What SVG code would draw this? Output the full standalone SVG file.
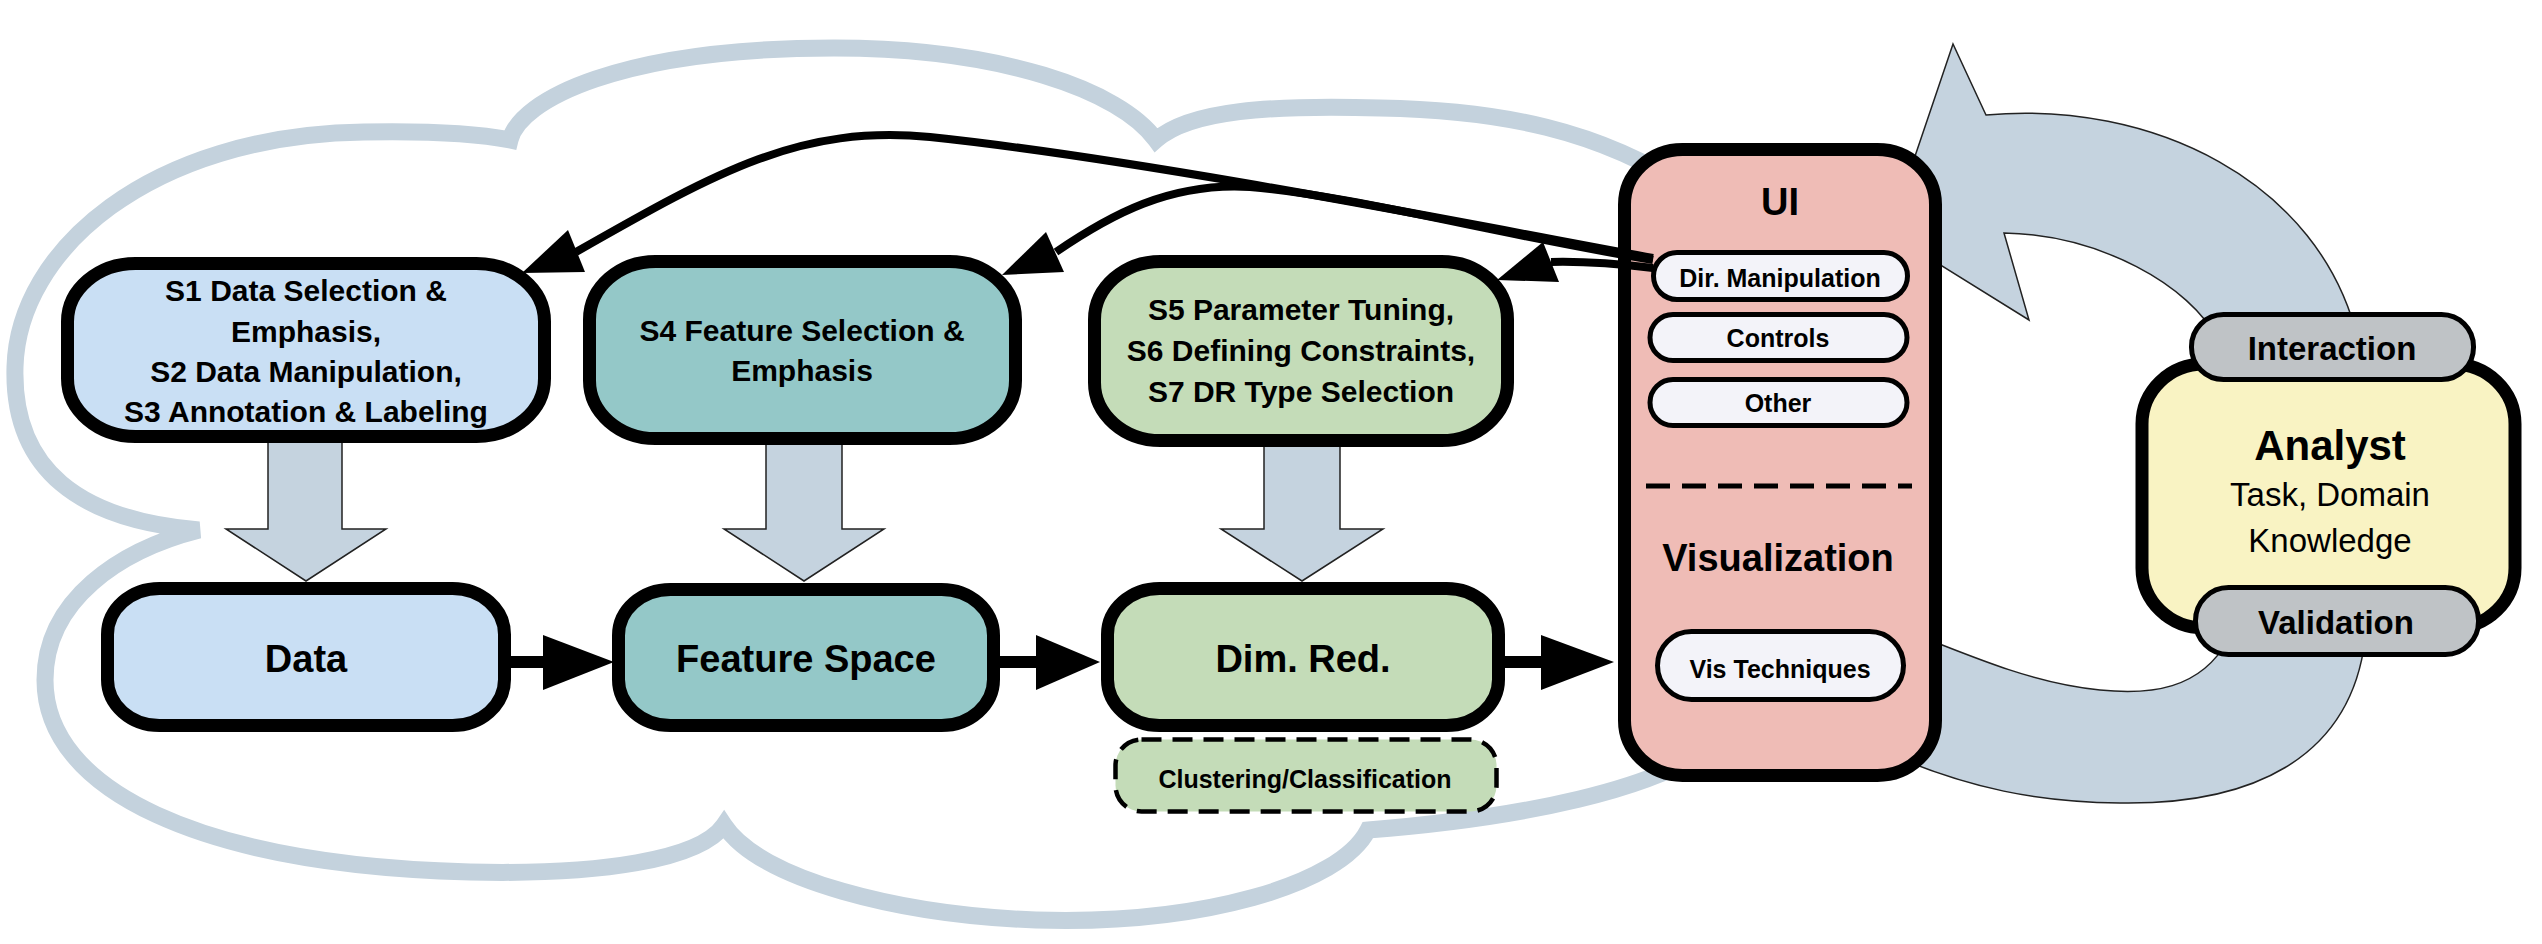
<svg xmlns="http://www.w3.org/2000/svg" width="2542" height="944" viewBox="0 0 2542 944">
<style>
text{font-family:"Liberation Sans",Arial,Helvetica,sans-serif;fill:#000;text-anchor:middle}
.b{font-weight:bold}
.box{stroke:#000;stroke-width:13}
.pill{stroke:#000;stroke-width:5}
.blue{fill:#c9dff4}
.teal{fill:#94c8c8}
.green{fill:#c4dcb8}
.garrow{fill:#c5d3df;stroke:#222;stroke-width:1.5;stroke-linejoin:miter}
.conn{fill:none;stroke:#000;stroke-width:8}
.t30{font-size:30px}
.t38{font-size:38px}
.t25{font-size:25px}
</style>
<rect width="2542" height="944" fill="#fff"/>
<g id="cloud">
<path d="M199,530 C80,520 12,470 15,367 C18,250 150,135 364,132 C420,131 475,133 510,140 C520,100 620,48 834,48 C1000,48 1120,90 1156,140 C1190,110 1270,105 1380,108 C1500,110 1600,130 1690,190 L1720,740 C1660,790 1520,818 1368,830 C1340,885 1200,925 1036,920 C900,915 760,880 724,825 C700,860 600,875 470,872 C200,865 45,790 45,680 C45,600 120,550 199,530 Z" fill="none" stroke="#c4d2dd" stroke-width="17"/>
</g>
<g id="loop-arrows">
<path class="garrow" d="M2218,340 C2190,285 2100,235 2004,233 L2029,320 L1889,233 L1953,44 L1986,115 C2150,100 2320,180 2358,340 Z"/>
<path class="garrow" d="M2365,640 C2350,760 2250,805 2120,803 C2040,802 1970,790 1880,750 L1880,620 C1990,665 2040,684 2100,690 C2150,695 2200,690 2228,640 Z"/>
</g>
<g id="down-arrows">
<polygon class="garrow" points="268,440 342,440 342,529 386,529 306,581 226,529 268,529"/>
<polygon class="garrow" points="766,440 842,440 842,529 884,529 804,581 724,529 766,529"/>
<polygon class="garrow" points="1264,440 1340,440 1340,529 1383,529 1302,581 1221,529 1264,529"/>
</g>
<g id="s1">
<rect class="box blue" x="67.5" y="263.5" width="477" height="173" rx="68" ry="58"/>
<text class="b t30" x="306" y="301">S1 Data Selection &amp;</text>
<text class="b t30" x="306" y="342">Emphasis,</text>
<text class="b t30" x="306" y="382">S2 Data Manipulation,</text>
<text class="b t30" x="306" y="422">S3 Annotation &amp; Labeling</text>
</g>
<g id="s4">
<rect class="box teal" x="589.5" y="261.5" width="426" height="177" rx="66" ry="58"/>
<text class="b t30" x="802" y="341">S4 Feature Selection &amp;</text>
<text class="b t30" x="802" y="381">Emphasis</text>
</g>
<g id="s5">
<rect class="box green" x="1094.5" y="261.5" width="413" height="179" rx="66" ry="58"/>
<text class="b t30" x="1301" y="320">S5 Parameter Tuning,</text>
<text class="b t30" x="1301" y="361">S6 Defining Constraints,</text>
<text class="b t30" x="1301" y="402">S7 DR Type Selection</text>
</g>
<g id="data">
<rect class="box blue" x="107.5" y="588.5" width="397" height="137" rx="52" ry="46"/>
<text class="b t38" x="306" y="672">Data</text>
</g>
<g id="feature-space">
<rect class="box teal" x="618.5" y="589.5" width="375" height="136" rx="52" ry="46"/>
<text class="b t38" x="806" y="672">Feature Space</text>
</g>
<g id="dim-red">
<rect class="box green" x="1107.5" y="588.5" width="391" height="137" rx="52" ry="46"/>
<text class="b t38" x="1303" y="672">Dim. Red.</text>
</g>
<g id="clustering">
<rect class="green" x="1115.5" y="739.5" width="381" height="72" rx="26" ry="26" stroke="#000" stroke-width="4.5" stroke-dasharray="20 11"/>
<text class="b t25" x="1305" y="788">Clustering/Classification</text>
</g>
<g id="ui">
<rect class="box" fill="#efbcb6" x="1624.5" y="149.5" width="311" height="626" rx="58" ry="55"/>
<text class="b t38" x="1780" y="215">UI</text>
<line x1="1646" y1="486" x2="1912" y2="486" stroke="#000" stroke-width="5" stroke-dasharray="24 12"/>
<text class="b t38" x="1778" y="571">Visualization</text>
</g>
<g id="dir-manipulation">
<rect class="pill" fill="#f3f3f9" x="1653.5" y="252.5" width="254" height="47" rx="23.5"/>
<text class="b t25" x="1780" y="287">Dir. Manipulation</text>
</g>
<g id="controls">
<rect class="pill" fill="#f3f3f9" x="1650" y="314.5" width="257" height="46" rx="23"/>
<text class="b t25" x="1778" y="347">Controls</text>
</g>
<g id="other">
<rect class="pill" fill="#f3f3f9" x="1650" y="379.5" width="257" height="46" rx="23"/>
<text class="b t25" x="1778" y="412">Other</text>
</g>
<g id="vis-techniques">
<rect class="pill" fill="#f3f3f9" x="1657.5" y="631.5" width="246" height="68" rx="34"/>
<text class="b t25" x="1780" y="678">Vis Techniques</text>
</g>
<g id="analyst">
<rect class="box" fill="#f9f3c3" x="2142" y="364" width="373" height="264" rx="62" ry="60"/>
<text class="b" x="2330" y="460" font-size="42">Analyst</text>
<text x="2330" y="506" font-size="33">Task, Domain</text>
<text x="2330" y="552" font-size="33">Knowledge</text>
</g>
<g id="interaction">
<rect class="pill" fill="#bfc3c6" x="2191.5" y="314.5" width="282" height="65" rx="32"/>
<text class="b" x="2332" y="360" font-size="33">Interaction</text>
</g>
<g id="validation">
<rect class="pill" fill="#bfc3c6" x="2195.5" y="587.5" width="283" height="67" rx="33"/>
<text class="b" x="2336" y="634" font-size="33">Validation</text>
</g>
<g id="connectors">
<line x1="511" y1="662" x2="545" y2="662" stroke="#000" stroke-width="12"/>
<polygon points="543,635 614,662 543,690" fill="#000"/>
<line x1="1000" y1="662" x2="1038" y2="662" stroke="#000" stroke-width="12"/>
<polygon points="1036,635 1100,662 1036,690" fill="#000"/>
<line x1="1505" y1="662" x2="1543" y2="662" stroke="#000" stroke-width="12"/>
<polygon points="1541,635 1614,662 1541,690" fill="#000"/>
<path class="conn" d="M1653,258 C1500,230 1150,160 930,137 C800,125 720,170 576,252"/>
<polygon points="522,273 568,230 585,272" fill="#000"/>
<path class="conn" d="M1653,260 C1500,235 1350,195 1250,187 C1170,182 1110,215 1056,252"/>
<polygon points="1002,275 1046,232 1064,272" fill="#000"/>
<path class="conn" d="M1653,268 C1620,264 1590,261 1551,262"/>
<polygon points="1497,280 1543,242 1559,282" fill="#000"/>
</g>
</svg>
